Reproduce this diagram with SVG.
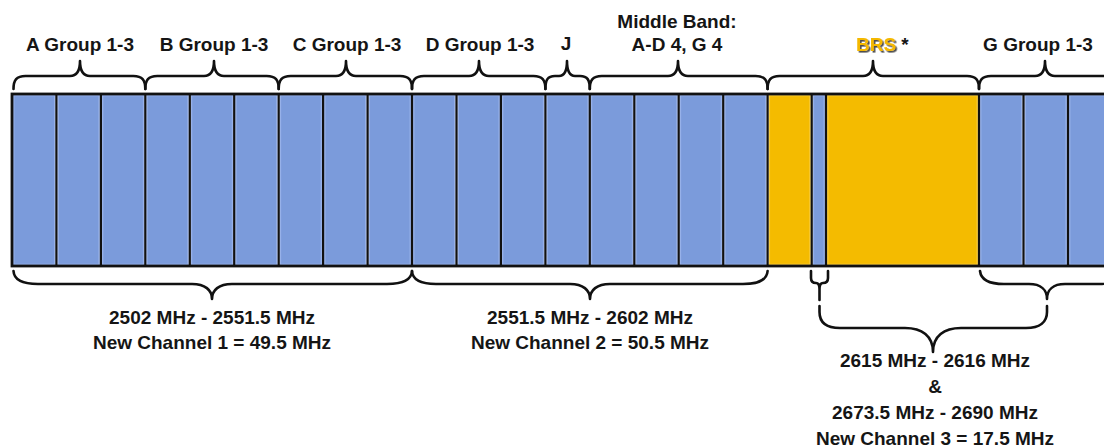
<svg xmlns="http://www.w3.org/2000/svg" width="1104" height="448" viewBox="0 0 1104 448">
<defs>
<style>
.c{fill:#7b9bdb;stroke:#97b1e9;stroke-width:1.5}
.y{fill:#f4bb00;stroke:#f8cb3c;stroke-width:1.5}
.div{stroke:#111;stroke-width:2.2}
.br{fill:none;stroke:#111;stroke-width:2.6;stroke-linecap:round;stroke-linejoin:round}
.t{font-family:"Liberation Sans",Arial,sans-serif;font-weight:bold;font-size:19px;fill:#151515;text-anchor:middle}
</style>
<filter id="sh" x="-20%" y="-30%" width="140%" height="160%">
<feDropShadow dx="1.6" dy="1.6" stdDeviation="0.7" flood-color="#3a3a3a" flood-opacity="0.9"/>
</filter>
</defs>
<rect width="1104" height="448" fill="#fff"/>

<g id="bar">
<g id="cells-A">
<rect class="c" x="13.7" y="95.5" width="41" height="169"/>
<rect class="c" x="58.1" y="95.5" width="41" height="169"/>
<rect class="c" x="102.6" y="95.5" width="41" height="169"/>
</g>
<g id="cells-B">
<rect class="c" x="147" y="95.5" width="41" height="169"/>
<rect class="c" x="191.5" y="95.5" width="41" height="169"/>
<rect class="c" x="235.9" y="95.5" width="41" height="169"/>
</g>
<g id="cells-C">
<rect class="c" x="280.4" y="95.5" width="41" height="169"/>
<rect class="c" x="324.8" y="95.5" width="41" height="169"/>
<rect class="c" x="369.3" y="95.5" width="41" height="169"/>
</g>
<g id="cells-D">
<rect class="c" x="413.7" y="95.5" width="41" height="169"/>
<rect class="c" x="458.2" y="95.5" width="41" height="169"/>
<rect class="c" x="502.6" y="95.5" width="41" height="169"/>
</g>
<g id="cell-J">
<rect class="c" x="547.1" y="95.5" width="41" height="169"/>
</g>
<g id="cells-middle">
<rect class="c" x="591.5" y="95.5" width="41" height="169"/>
<rect class="c" x="636" y="95.5" width="41" height="169"/>
<rect class="c" x="680.4" y="95.5" width="41" height="169"/>
<rect class="c" x="724.9" y="95.5" width="41" height="169"/>
</g>
<g id="cells-BRS">
<rect class="y" x="769.3" y="95.5" width="40.7" height="169"/>
<rect class="c" x="813.4" y="95.5" width="10.9" height="169"/>
<rect class="y" x="827.7" y="95.5" width="149.6" height="169"/>
</g>
<g id="cells-G">
<rect class="c" x="980.7" y="95.5" width="41" height="169"/>
<rect class="c" x="1025.2" y="95.5" width="41" height="169"/>
<rect class="c" x="1069.7" y="95.5" width="41" height="169"/>
</g>
<g id="dividers">
<line class="div" x1="56.4" y1="94" x2="56.4" y2="266"/>
<line class="div" x1="100.9" y1="94" x2="100.9" y2="266"/>
<line class="div" x1="145.3" y1="94" x2="145.3" y2="266"/>
<line class="div" x1="189.8" y1="94" x2="189.8" y2="266"/>
<line class="div" x1="234.2" y1="94" x2="234.2" y2="266"/>
<line class="div" x1="278.7" y1="94" x2="278.7" y2="266"/>
<line class="div" x1="323.1" y1="94" x2="323.1" y2="266"/>
<line class="div" x1="367.6" y1="94" x2="367.6" y2="266"/>
<line class="div" x1="412" y1="94" x2="412" y2="266"/>
<line class="div" x1="456.5" y1="94" x2="456.5" y2="266"/>
<line class="div" x1="500.9" y1="94" x2="500.9" y2="266"/>
<line class="div" x1="545.4" y1="94" x2="545.4" y2="266"/>
<line class="div" x1="589.8" y1="94" x2="589.8" y2="266"/>
<line class="div" x1="634.3" y1="94" x2="634.3" y2="266"/>
<line class="div" x1="678.7" y1="94" x2="678.7" y2="266"/>
<line class="div" x1="723.2" y1="94" x2="723.2" y2="266"/>
<line class="div" x1="767.6" y1="94" x2="767.6" y2="266"/>
<line class="div" x1="811.7" y1="94" x2="811.7" y2="266"/>
<line class="div" x1="826" y1="94" x2="826" y2="266"/>
<line class="div" x1="979" y1="94" x2="979" y2="266"/>
<line class="div" x1="1023.5" y1="94" x2="1023.5" y2="266"/>
<line class="div" x1="1068" y1="94" x2="1068" y2="266"/>
</g>
<rect id="bar-border" x="12" y="94" width="1100" height="172" fill="none" stroke="#111" stroke-width="2.8"/>
</g>

<g id="connectors">
<path id="brace-A" class="br" d="M13.5,89 C13.5,80 16.5,76 25.5,76 H70 C76,76 80,72 80,61 C80,72 84,76 90,76 H133.3 C142.3,76 145.3,80 145.3,89"/>
<path id="brace-B" class="br" d="M145.3,89 C145.3,80 148.3,76 157.3,76 H204 C210,76 214,72 214,61 C214,72 218,76 224,76 H266.7 C275.7,76 278.7,80 278.7,89"/>
<path id="brace-C" class="br" d="M278.7,89 C278.7,80 281.7,76 290.7,76 H336 C342,76 346,72 346,61 C346,72 350,76 356,76 H400 C409,76 412,80 412,89"/>
<path id="brace-D" class="br" d="M412,89 C412,80 415,76 424,76 H469 C475,76 479,72 479,61 C479,72 483,76 489,76 H533.4 C542.4,76 545.4,80 545.4,89"/>
<path id="brace-J" class="br" d="M545.4,89 C545.4,80 547.5,76 555,76 H559 C564,76 567,72 567,61 C567,72 570,76 575,76 H580 C587.5,76 589.8,80 589.8,89"/>
<path id="brace-middle" class="br" d="M589.8,89 C589.8,80 592.8,76 601.8,76 H668 C674,76 678,72 678,61 C678,72 682,76 688,76 H755.6 C764.6,76 767.6,80 767.6,89"/>
<path id="brace-BRS" class="br" d="M767.6,89 C767.6,80 770.6,76 779.6,76 H863 C869,76 873,72 873,61 C873,72 877,76 883,76 H967 C976,76 979,80 979,89"/>
<path id="brace-G" class="br" d="M979,89 C979,80 982,76 991,76 H1035 C1041,76 1045,72 1045,61 C1045,72 1049,76 1055,76 H1108 C1117,76 1120,80 1120,89"/>
<path id="brace-ch1" class="br" d="M13.5,271 C14,280 22,284 38,284 H192 C205,284 212,290 212,299 C212,290 219,284 232,284 H387 C403,284 411.5,280 412,271"/>
<path id="brace-ch2" class="br" d="M412,271 C412.5,280 420,284 436,284 H570 C583,284 590,290 590,299 C590,290 597,284 610,284 H743 C759,284 767,280 767.6,271"/>
<path id="brace-narrow" class="br" d="M811,271 V278 C811,282 813,283 816,283 C818.5,283 819.5,285 819.5,289 V300 M819.5,289 C819.5,285 820.5,283 823,283 C826,283 828,282 828,278 V271"/>
<path id="brace-Gbottom" class="br" d="M980,271 C981,280 989,284 1004,284 H1029 C1041,284 1047,290 1047,299 C1047,290 1053,284 1065,284 H1100 C1112,284 1118,280 1119,271"/>
<path id="brace-ch3" class="br" d="M819.5,306 V312 C819.5,322 826,328 840,328 H905 C922,328 933,336 933,352 C933,336 944,328 961,328 H1026 C1040,328 1047,322 1047,312 V306"/>
</g>

<g id="labels-top">
<text class="t" x="80" y="51">A Group 1-3</text>
<text class="t" x="214" y="51">B Group 1-3</text>
<text class="t" x="347" y="51">C Group 1-3</text>
<text class="t" x="480" y="51">D Group 1-3</text>
<text class="t" x="566" y="50">J</text>
<text class="t" x="677" y="28">Middle Band:</text>
<text class="t" x="677" y="51">A-D 4, G 4</text>
<text class="t" x="876" y="51" style="fill:#f4b800" filter="url(#sh)">BRS</text>
<text class="t" x="905" y="51">*</text>
<text class="t" x="1038" y="51">G Group 1-3</text>
</g>

<g id="labels-bottom">
<text class="t" x="212" y="324">2502 MHz - 2551.5 MHz</text>
<text class="t" x="212" y="349">New Channel 1 = 49.5 MHz</text>
<text class="t" x="590" y="324">2551.5 MHz - 2602 MHz</text>
<text class="t" x="590" y="349">New Channel 2 = 50.5 MHz</text>
<text class="t" x="935" y="367">2615 MHz - 2616 MHz</text>
<text class="t" x="935" y="393">&amp;</text>
<text class="t" x="935" y="419">2673.5 MHz - 2690 MHz</text>
<text class="t" x="935" y="445">New Channel 3 = 17.5 MHz</text>
</g>
</svg>
